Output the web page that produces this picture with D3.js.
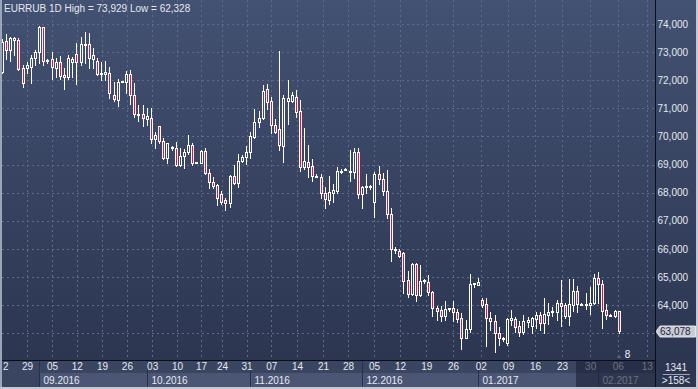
<!DOCTYPE html>
<html>
<head>
<meta charset="utf-8">
<script src="https://cdn.jsdelivr.net/npm/d3@7"></script>
<style>
  body { margin: 0; background: #2e3954; overflow: hidden; }
  #container { width: 698px; height: 389px; }
  text { font-family: "Liberation Sans", Arial, sans-serif; }
</style>
</head>
<body>
<div id="container"></div>
<script>
// EURRUB 1D - une bougie par séance
const opens = [
  72.30, 73.39, 73.06, 73.50, 73.43, 72.42, 72.44, 72.46, 72.78, 72.99,
  73.89, 72.69, 72.75, 72.44, 72.65, 72.18, 72.10, 72.66, 72.95, 72.66,
  73.25, 73.30, 72.74, 72.69, 72.24, 72.21, 72.24, 71.49, 71.29, 71.94,
  71.95, 72.21, 71.47, 70.78, 70.79, 70.63, 70.67, 69.89, 70.37, 69.83,
  69.24, 69.61, 69.57, 69.00, 69.32, 69.45, 69.69, 69.08, 69.06, 69.48,
  68.68, 68.36, 68.26, 67.95, 67.74, 67.62, 68.59, 68.35, 69.12, 69.26,
  69.43, 69.99, 70.50, 70.64, 71.67, 71.26, 70.39, 70.26, 69.67, 71.27,
  71.27, 71.39, 70.92, 68.90, 69.08, 68.95, 68.60, 68.57, 67.97, 67.74,
  68.00, 68.07, 68.76, 68.80, 68.77, 68.74, 69.43, 67.95, 68.22, 68.20,
  67.68, 68.66, 68.48, 68.06, 67.23, 65.98, 65.93, 65.84, 64.89, 64.38,
  65.46, 64.36, 64.86, 64.81, 64.46, 63.89, 63.82, 63.62, 63.86, 63.88,
  63.74, 63.53, 62.84, 63.14, 64.74, 64.71, 64.18, 64.04, 63.54, 63.44,
  63.02, 62.78, 62.66, 63.47, 63.49, 63.25, 63.05, 63.40, 63.25, 63.49,
  63.65, 63.35, 63.65, 63.76, 63.76, 64.06, 64.00, 63.62, 64.00, 64.50,
  64.03, 64.00, 63.99, 64.06, 64.95, 64.75, 63.82, 63.66, 63.61, 63.77
];
const highs = [
  73.45, 73.63, 73.55, 73.54, 73.49, 72.54, 72.66, 72.90, 73.09, 73.929,
  73.90, 72.75, 72.99, 72.80, 72.85, 72.42, 72.90, 72.84, 73.31, 73.55,
  73.70, 73.67, 73.13, 72.78, 72.66, 72.69, 72.48, 71.95, 72.06, 71.97,
  72.34, 72.36, 71.89, 71.11, 71.13, 71.00, 71.00, 70.16, 70.38, 69.95,
  69.78, 69.67, 69.81, 69.59, 69.55, 70.04, 69.75, 69.09, 69.51, 69.59,
  68.83, 68.56, 68.29, 68.07, 67.80, 68.63, 68.98, 69.37, 69.34, 69.67,
  70.14, 70.96, 70.92, 71.83, 71.86, 71.41, 70.61, 73.04, 71.47, 72.01,
  71.59, 71.65, 71.30, 70.29, 69.69, 69.18, 68.66, 68.66, 68.19, 68.59,
  68.31, 68.92, 68.83, 68.87, 69.52, 69.58, 69.58, 68.23, 68.66, 68.26,
  68.74, 68.95, 68.71, 68.80, 67.44, 66.05, 65.98, 65.90, 65.22, 65.48,
  65.51, 65.42, 64.93, 65.07, 64.50, 63.97, 63.97, 64.14, 63.91, 64.14,
  63.85, 63.71, 63.47, 65.10, 64.79, 64.97, 64.24, 64.24, 63.76, 63.65,
  63.23, 62.87, 63.55, 63.82, 63.59, 63.44, 63.65, 63.56, 63.59, 63.76,
  63.76, 64.24, 64.06, 63.94, 64.18, 64.89, 64.08, 64.91, 64.91, 64.68,
  64.08, 64.42, 64.63, 65.09, 65.16, 64.89, 64.04, 63.67, 63.82, 63.79
];
const lows = [
  72.25, 72.75, 72.69, 72.90, 72.38, 71.76, 72.24, 71.91, 72.54, 72.60,
  72.54, 72.60, 72.06, 72.12, 72.06, 71.67, 72.03, 72.12, 71.85, 72.54,
  72.60, 72.42, 72.42, 72.19, 71.99, 71.99, 71.35, 71.26, 71.09, 71.92,
  71.55, 71.17, 70.70, 70.54, 70.38, 70.40, 69.75, 69.59, 69.78, 69.18,
  69.04, 69.51, 68.95, 68.95, 68.88, 69.36, 69.00, 69.07, 69.04, 68.66,
  68.17, 68.17, 67.55, 67.59, 67.38, 67.50, 68.31, 68.21, 69.10, 69.01,
  69.22, 69.93, 70.35, 70.62, 70.96, 70.13, 70.13, 69.52, 69.10, 70.44,
  71.24, 70.70, 68.78, 68.84, 68.57, 68.41, 68.54, 67.80, 67.44, 67.59,
  67.68, 67.97, 68.70, 68.80, 68.42, 68.51, 67.80, 67.44, 67.97, 68.12,
  67.12, 68.31, 67.91, 67.08, 65.58, 65.86, 65.72, 64.44, 64.30, 64.36,
  64.15, 64.33, 64.80, 64.36, 63.61, 63.47, 63.44, 63.47, 63.80, 63.44,
  63.41, 62.44, 62.82, 63.05, 64.65, 64.71, 63.92, 62.54, 63.11, 62.328,
  62.58, 62.72, 62.58, 63.29, 63.05, 62.90, 62.97, 63.23, 62.99, 63.17,
  63.11, 62.99, 63.31, 63.61, 63.47, 63.25, 63.53, 63.29, 63.79, 63.76,
  63.99, 63.85, 63.68, 64.04, 64.06, 63.19, 63.49, 63.60, 63.56, 62.99
];
const closes = [
  73.37, 73.06, 73.51, 73.42, 72.41, 71.89, 72.54, 72.80, 72.99, 73.89,
  72.69, 72.72, 72.48, 72.65, 72.16, 72.10, 72.79, 72.75, 72.66, 73.28,
  73.28, 72.78, 72.88, 72.21, 72.21, 72.28, 71.53, 71.33, 71.92, 71.96,
  72.21, 71.47, 70.78, 70.76, 70.67, 70.72, 69.89, 70.04, 69.83, 69.24,
  69.75, 69.63, 68.98, 69.31, 69.45, 69.69, 69.04, 69.08, 69.48, 68.68,
  68.36, 68.24, 67.81, 67.68, 67.62, 68.59, 68.35, 69.12, 69.28, 69.43,
  70.01, 70.50, 70.64, 71.63, 71.24, 70.41, 70.17, 69.68, 71.35, 71.37,
  71.47, 70.88, 68.90, 69.12, 68.92, 68.59, 68.56, 67.97, 67.76, 68.01,
  68.09, 68.77, 68.78, 68.85, 68.76, 69.43, 67.95, 68.21, 68.21, 68.22,
  68.66, 68.47, 68.06, 67.23, 65.98, 66.00, 65.74, 64.87, 64.38, 65.45,
  64.36, 64.85, 64.88, 64.45, 63.88, 63.80, 63.62, 63.86, 63.88, 63.76,
  63.50, 62.84, 63.14, 64.75, 64.77, 64.83, 64.01, 63.53, 63.42, 62.99,
  62.82, 62.82, 63.49, 63.53, 63.23, 63.05, 63.43, 63.47, 63.53, 63.65,
  63.35, 63.67, 63.76, 63.78, 64.08, 63.97, 63.62, 64.04, 64.50, 64.04,
  64.05, 64.02, 64.08, 64.95, 64.74, 63.80, 63.65, 63.64, 63.79, 63.078
];

// axe des prix
const priceTicks = [63, 64, 65, 66, 67, 68, 69, 70, 71, 72, 73, 74];
const priceLabels = [64, 65, 66, 67, 68, 69, 70, 71, 72, 73, 74];
const lastPrice = 63.078;

// axe du temps (position en index de bougie) ; le premier label est coupé à gauche, on ne voit que "2"
const weekLabels = ["2", "29", "05", "12", "19", "26", "03", "10", "17", "24", "31", "07", "14",
  "21", "28", "05", "12", "19", "26", "02", "09", "16", "23", "30", "06", "13"];
const weekPos = [0.85, 6.1, 12.1, 18.1, 24.2, 30.2, 36.3, 42.3, 48.1, 53.2, 59.1, 65.1, 71.3,
  77.6, 83.6, 89.9, 96.2, 102.5, 109.0, 115.7, 122.3, 128.8, 135.3, 142.1, 148.8, 155.8];
const monthLabels = ["09.2016", "10.2016", "11.2016", "12.2016", "01.2017", "02.2017"];
const monthPos = [9, 35, 60, 87, 115, 144];
const dimStart = 138.7;

const width = 698;
const height = 389;
const plotRight = 655;
const plotBottom = 360;
const red = "#e3123e";
const fontSize = 10;

const candles = opens.map((o, i) => ({ i, o, h: highs[i], l: lows[i], c: closes[i] }));

const x = d3.scaleLinear().domain([0, candles.length - 1]).range([1.86, 618.7]);
const y = d3.scaleLinear().domain([63, 74]).range([333.1, 24]);
const px = i => Math.round(x(i)) + 0.5;
const fmt = v => d3.format(".3f")(v).replace(".", ",");

const svg = d3.create("svg")
  .attr("width", width)
  .attr("height", height)
  .attr("viewBox", [0, 0, width, height]);

const defs = svg.append("defs");
const grad = defs.append("linearGradient")
  .attr("id", "bg")
  .attr("gradientUnits", "userSpaceOnUse")
  .attr("x1", 0).attr("y1", 0).attr("x2", 0).attr("y2", plotBottom);
grad.append("stop").attr("offset", 0).attr("stop-color", "#435172");
grad.append("stop").attr("offset", 1).attr("stop-color", "#2c3651");

defs.append("clipPath").attr("id", "clip")
  .append("rect").attr("x", 2).attr("y", 0).attr("width", plotRight - 2).attr("height", plotBottom);

svg.append("rect")
  .attr("width", width).attr("height", height)
  .attr("fill", "url(#bg)");

// grilles pointillées
const grid = svg.append("g")
  .attr("stroke", "#5d6a89")
  .attr("stroke-dasharray", "2,3")
  .attr("stroke-width", 1);

grid.selectAll("line.h").data(priceTicks).join("line")
  .attr("x1", 2).attr("x2", plotRight)
  .attr("y1", d => Math.round(y(d)) + 0.5)
  .attr("y2", d => Math.round(y(d)) + 0.5);

grid.selectAll("line.v").data(weekPos.slice(1)).join("line")
  .attr("x1", d => Math.round(x(d)) + 0.5)
  .attr("x2", d => Math.round(x(d)) + 0.5)
  .attr("y1", 0).attr("y2", plotBottom);

// bougies
const plot = svg.append("g").attr("clip-path", "url(#clip)");

plot.append("g")
  .attr("stroke", "#fff")
  .selectAll("line")
  .data(candles)
  .join("line")
  .attr("x1", d => px(d.i))
  .attr("x2", d => px(d.i))
  .attr("y1", d => Math.round(y(d.h)))
  .attr("y2", d => Math.round(y(d.l)) + 1);

plot.append("g")
  .attr("stroke", "#fff")
  .selectAll("rect")
  .data(candles)
  .join("rect")
  .attr("x", d => px(d.i) - 1)
  .attr("y", d => Math.round(y(Math.max(d.o, d.c))) + 0.5)
  .attr("width", 2)
  .attr("height", d => Math.max(Math.round(y(Math.min(d.o, d.c))) - Math.round(y(Math.max(d.o, d.c))), 1))
  .attr("fill", d => d.c >= d.o ? "url(#bg)" : red);

// axe des prix à droite
const yAxis = svg.append("g")
  .attr("transform", `translate(${plotRight},0)`)
  .call(d3.axisRight(y).tickValues(priceLabels).tickFormat(fmt).tickSize(0).tickPadding(2.5));
yAxis.select(".domain").remove();
yAxis.selectAll("text")
  .attr("fill", "#e6e9f0")
  .attr("font-size", fontSize)
  .attr("font-family", "Liberation Sans, Arial, sans-serif");

// dernier prix
const ly = Math.round(y(lastPrice)) + 0.5;
svg.append("path")
  .attr("d", `M${plotRight + 1},${ly} L${plotRight + 5},${ly - 5.5} L695.5,${ly - 5.5} L695.5,${ly + 5.5} L${plotRight + 5},${ly + 5.5} Z`)
  .attr("fill", "#c9ccd3")
  .attr("stroke", "#e4e6ea");
svg.append("text")
  .attr("x", 660).attr("y", ly + 3.5)
  .attr("font-size", fontSize)
  .attr("fill", "#1d2640")
  .text(fmt(lastPrice));

// zone de l'axe du temps
const axisArea = svg.append("g");
axisArea.append("rect")
  .attr("x", 0).attr("y", plotBottom).attr("width", plotRight).attr("height", 27)
  .attr("fill", "#3a4561");

const sep = monthPos.map(p => Math.round(x(p)) + 0.5);
axisArea.selectAll("rect.month").data(monthLabels).join("rect")
  .attr("x", (d, j) => sep[j])
  .attr("y", 373)
  .attr("width", (d, j) => (j + 1 < sep.length ? sep[j + 1] : plotRight) - sep[j])
  .attr("height", 14)
  .attr("fill", "#4a5674");

axisArea.selectAll("line.sep").data(sep).join("line")
  .attr("x1", d => d).attr("x2", d => d)
  .attr("y1", plotBottom).attr("y2", 387)
  .attr("stroke", "#28314b");

const xAxis = svg.append("g")
  .attr("transform", `translate(0,${plotBottom})`)
  .call(d3.axisBottom(x).tickValues(weekPos).tickFormat((d, j) => weekLabels[j]).tickSize(0).tickPadding(3));
xAxis.select(".domain").remove();
xAxis.selectAll("text")
  .attr("fill", "#e6e9f0")
  .attr("font-size", fontSize)
  .attr("font-family", "Liberation Sans, Arial, sans-serif");

axisArea.selectAll("text.month").data(monthLabels).join("text")
  .attr("x", (d, j) => sep[j] + 4)
  .attr("y", 383.5)
  .attr("font-size", fontSize)
  .attr("fill", "#e6e9f0")
  .text(d => d);

// partie assombrie à droite de l'axe
svg.append("rect")
  .attr("x", Math.round(x(dimStart))).attr("y", plotBottom + 0.5)
  .attr("width", plotRight - Math.round(x(dimStart))).attr("height", 26.5)
  .attr("fill", "#1c2238").attr("opacity", 0.62);

// lignes noires des axes
svg.append("line")
  .attr("x1", 0).attr("x2", plotRight)
  .attr("y1", plotBottom + 0.5).attr("y2", plotBottom + 0.5)
  .attr("stroke", "#0c0f18");
svg.append("line")
  .attr("x1", plotRight + 0.5).attr("x2", plotRight + 0.5)
  .attr("y1", 0).attr("y2", 387)
  .attr("stroke", "#0c0f18");

// coin en bas à droite
svg.append("text")
  .attr("x", 676).attr("y", 371)
  .attr("text-anchor", "middle")
  .attr("font-size", fontSize)
  .attr("fill", "#e6e9f0")
  .text("1341");
svg.append("line")
  .attr("x1", 663).attr("x2", 690)
  .attr("y1", 374.5).attr("y2", 374.5)
  .attr("stroke", "#9ba3b6");
svg.append("text")
  .attr("x", 676).attr("y", 383.5)
  .attr("text-anchor", "middle")
  .attr("font-size", fontSize)
  .attr("fill", "#e6e9f0")
  .text(">158<");

// petit repère sous la dernière bougie
const lastX = px(candles.length - 1);
svg.append("path")
  .attr("d", `M${lastX - 3},358 L${lastX + 2},358 L${lastX - 0.5},355 Z`)
  .attr("fill", "#56607a");
svg.append("text")
  .attr("x", lastX + 8).attr("y", 358)
  .attr("text-anchor", "middle")
  .attr("font-size", fontSize)
  .attr("fill", "#eef2f8")
  .text("8");

// titre
svg.append("text")
  .attr("x", 4).attr("y", 12)
  .attr("font-size", fontSize)
  .attr("fill", "#e4e8ef")
  .text("EURRUB 1D High = 73,929 Low = 62,328");

// cadre
svg.append("rect").attr("x", 0).attr("y", 0).attr("width", 2).attr("height", height).attr("fill", "#9ca5b8");
svg.append("rect").attr("x", 696).attr("y", 0).attr("width", 2).attr("height", height).attr("fill", "#c4c8d0");
svg.append("rect").attr("x", 0).attr("y", 387).attr("width", width).attr("height", 2).attr("fill", "#c4c8d0");

d3.select("#container").node().append(svg.node());
</script>
</body>
</html>
